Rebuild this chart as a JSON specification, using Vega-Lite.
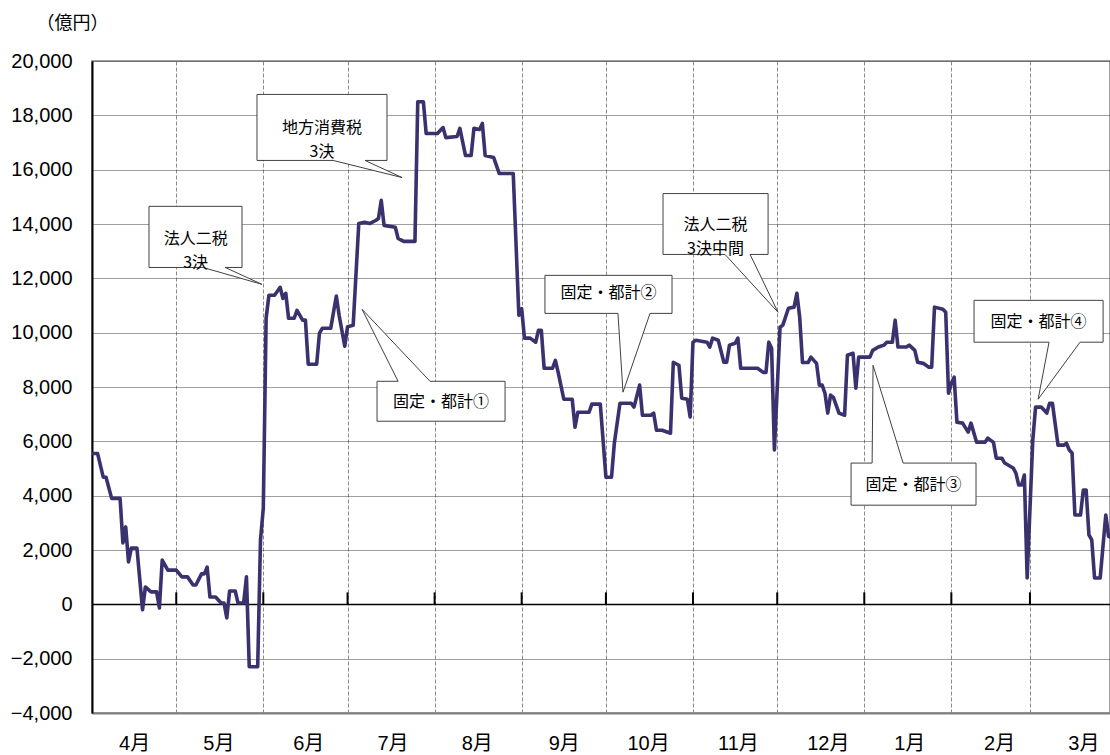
{
"$schema": "https://vega.github.io/schema/vega-lite/v6.json",
"width": 1018, "height": 652,
"autosize": {"type": "none"},
"padding": {"left": 92, "top": 61, "right": 0, "bottom": 42},
"background": "white",
"config": {"view": {"stroke": "#808080", "strokeWidth": 1.5}},
"datasets": {
"series": [
{"date":"2010-04-01","v":5550},{"date":"2010-04-03","v":5550},{"date":"2010-04-05","v":4680},{"date":"2010-04-06","v":4680},{"date":"2010-04-08","v":3900},{"date":"2010-04-11","v":3900},{"date":"2010-04-12","v":2260},{"date":"2010-04-13","v":2850},{"date":"2010-04-14","v":1560},{"date":"2010-04-15","v":2070},{"date":"2010-04-17","v":2070},{"date":"2010-04-19","v":-200},{"date":"2010-04-20","v":640},{"date":"2010-04-22","v":460},{"date":"2010-04-24","v":460},{"date":"2010-04-25","v":-130},{"date":"2010-04-26","v":1630},{"date":"2010-04-28","v":1260},
{"date":"2010-05-01","v":1260},{"date":"2010-05-03","v":1010},{"date":"2010-05-05","v":1010},{"date":"2010-05-07","v":710},{"date":"2010-05-08","v":710},{"date":"2010-05-10","v":1120},{"date":"2010-05-11","v":1120},{"date":"2010-05-12","v":1370},{"date":"2010-05-13","v":270},{"date":"2010-05-15","v":270},{"date":"2010-05-17","v":50},{"date":"2010-05-18","v":50},{"date":"2010-05-19","v":-500},{"date":"2010-05-20","v":490},{"date":"2010-05-22","v":490},{"date":"2010-05-23","v":50},{"date":"2010-05-25","v":50},{"date":"2010-05-26","v":1010},{"date":"2010-05-27","v":-2300},{"date":"2010-05-30","v":-2300},{"date":"2010-05-31","v":2370},
{"date":"2010-06-01","v":3540},{"date":"2010-06-02","v":10530},{"date":"2010-06-03","v":11380},{"date":"2010-06-05","v":11380},{"date":"2010-06-07","v":11670},{"date":"2010-06-08","v":11260},{"date":"2010-06-09","v":11450},{"date":"2010-06-10","v":10530},{"date":"2010-06-12","v":10530},{"date":"2010-06-13","v":10820},{"date":"2010-06-15","v":10460},{"date":"2010-06-16","v":10460},{"date":"2010-06-17","v":8840},{"date":"2010-06-20","v":8840},{"date":"2010-06-21","v":9980},{"date":"2010-06-22","v":10160},{"date":"2010-06-25","v":10160},{"date":"2010-06-27","v":11350},{"date":"2010-06-28","v":10640},{"date":"2010-06-30","v":9500},
{"date":"2010-07-01","v":10220},{"date":"2010-07-03","v":10270},{"date":"2010-07-05","v":14020},{"date":"2010-07-07","v":14060},{"date":"2010-07-09","v":14020},{"date":"2010-07-11","v":14130},{"date":"2010-07-12","v":14200},{"date":"2010-07-13","v":14870},{"date":"2010-07-14","v":13950},{"date":"2010-07-18","v":13880},{"date":"2010-07-19","v":13470},{"date":"2010-07-21","v":13360},{"date":"2010-07-25","v":13360},{"date":"2010-07-26","v":18500},{"date":"2010-07-28","v":18500},{"date":"2010-07-29","v":17330},
{"date":"2010-08-02","v":17330},{"date":"2010-08-04","v":17550},{"date":"2010-08-05","v":17180},{"date":"2010-08-09","v":17220},{"date":"2010-08-10","v":17520},{"date":"2010-08-12","v":16520},{"date":"2010-08-14","v":16520},{"date":"2010-08-15","v":17520},{"date":"2010-08-17","v":17480},{"date":"2010-08-18","v":17700},{"date":"2010-08-19","v":16520},{"date":"2010-08-22","v":16450},{"date":"2010-08-24","v":15860},{"date":"2010-08-29","v":15860},{"date":"2010-08-31","v":10640},
{"date":"2010-09-01","v":10880},{"date":"2010-09-02","v":9800},{"date":"2010-09-04","v":9800},{"date":"2010-09-06","v":9650},{"date":"2010-09-07","v":10090},{"date":"2010-09-08","v":10090},{"date":"2010-09-09","v":8690},{"date":"2010-09-12","v":8690},{"date":"2010-09-13","v":8980},{"date":"2010-09-14","v":8540},{"date":"2010-09-16","v":7550},{"date":"2010-09-19","v":7550},{"date":"2010-09-20","v":6520},{"date":"2010-09-21","v":7070},{"date":"2010-09-25","v":7070},{"date":"2010-09-26","v":7370},{"date":"2010-09-29","v":7370},
{"date":"2010-10-01","v":4680},{"date":"2010-10-03","v":4680},{"date":"2010-10-04","v":5930},{"date":"2010-10-06","v":7400},{"date":"2010-10-10","v":7400},{"date":"2010-10-11","v":7260},{"date":"2010-10-13","v":8070},{"date":"2010-10-14","v":6960},{"date":"2010-10-17","v":6960},{"date":"2010-10-18","v":7040},{"date":"2010-10-19","v":6410},{"date":"2010-10-21","v":6410},{"date":"2010-10-24","v":6300},{"date":"2010-10-25","v":8910},{"date":"2010-10-27","v":8800},{"date":"2010-10-28","v":7590},{"date":"2010-10-30","v":7550},{"date":"2010-10-31","v":6900},
{"date":"2010-11-01","v":9650},{"date":"2010-11-02","v":9720},{"date":"2010-11-06","v":9650},{"date":"2010-11-07","v":9470},{"date":"2010-11-08","v":9800},{"date":"2010-11-10","v":9720},{"date":"2010-11-12","v":8910},{"date":"2010-11-13","v":8910},{"date":"2010-11-14","v":9540},{"date":"2010-11-16","v":9610},{"date":"2010-11-17","v":9800},{"date":"2010-11-18","v":8690},{"date":"2010-11-24","v":8690},{"date":"2010-11-26","v":8540},{"date":"2010-11-27","v":8540},{"date":"2010-11-28","v":9650},{"date":"2010-11-29","v":9430},{"date":"2010-11-30","v":5680},
{"date":"2010-12-02","v":10200},{"date":"2010-12-03","v":10280},{"date":"2010-12-05","v":10900},{"date":"2010-12-07","v":10940},{"date":"2010-12-08","v":11450},{"date":"2010-12-09","v":10570},{"date":"2010-12-10","v":8900},{"date":"2010-12-12","v":8900},{"date":"2010-12-13","v":9100},{"date":"2010-12-15","v":8870},{"date":"2010-12-16","v":8070},{"date":"2010-12-17","v":8070},{"date":"2010-12-18","v":7770},{"date":"2010-12-19","v":7040},{"date":"2010-12-20","v":7700},{"date":"2010-12-21","v":7620},{"date":"2010-12-23","v":7040},{"date":"2010-12-25","v":6960},{"date":"2010-12-26","v":9170},{"date":"2010-12-28","v":9240},{"date":"2010-12-29","v":7960},{"date":"2010-12-30","v":9100},
{"date":"2011-01-03","v":9100},{"date":"2011-01-04","v":9350},{"date":"2011-01-06","v":9470},{"date":"2011-01-08","v":9540},{"date":"2011-01-09","v":9650},{"date":"2011-01-11","v":9650},{"date":"2011-01-12","v":10460},{"date":"2011-01-13","v":9470},{"date":"2011-01-16","v":9470},{"date":"2011-01-17","v":9540},{"date":"2011-01-19","v":9350},{"date":"2011-01-20","v":8910},{"date":"2011-01-22","v":8870},{"date":"2011-01-24","v":8730},{"date":"2011-01-25","v":8730},{"date":"2011-01-26","v":10940},{"date":"2011-01-29","v":10860},{"date":"2011-01-30","v":10750},{"date":"2011-01-31","v":7770},
{"date":"2011-02-01","v":8140},{"date":"2011-02-02","v":8360},{"date":"2011-02-03","v":6700},{"date":"2011-02-05","v":6670},{"date":"2011-02-07","v":6340},{"date":"2011-02-08","v":6670},{"date":"2011-02-10","v":5970},{"date":"2011-02-13","v":5970},{"date":"2011-02-14","v":6120},{"date":"2011-02-16","v":5960},{"date":"2011-02-17","v":5380},{"date":"2011-02-19","v":5380},{"date":"2011-02-20","v":5200},{"date":"2011-02-23","v":5020},{"date":"2011-02-24","v":4830},{"date":"2011-02-25","v":4390},{"date":"2011-02-26","v":4390},{"date":"2011-02-27","v":4760},{"date":"2011-02-28","v":970},
{"date":"2011-03-02","v":6040},{"date":"2011-03-03","v":7260},{"date":"2011-03-05","v":7260},{"date":"2011-03-07","v":7040},{"date":"2011-03-08","v":7400},{"date":"2011-03-09","v":7400},{"date":"2011-03-11","v":5860},{"date":"2011-03-13","v":5860},{"date":"2011-03-14","v":5930},{"date":"2011-03-15","v":5680},{"date":"2011-03-16","v":5570},{"date":"2011-03-17","v":3290},{"date":"2011-03-19","v":3290},{"date":"2011-03-20","v":4210},{"date":"2011-03-21","v":4210},{"date":"2011-03-22","v":2560},{"date":"2011-03-23","v":2370},{"date":"2011-03-24","v":970},{"date":"2011-03-26","v":970},{"date":"2011-03-28","v":3290},{"date":"2011-03-29","v":2500},{"date":"2011-03-30","v":2450}
],
"months": [
{"date":"2010-05-01"},{"date":"2010-06-01"},{"date":"2010-07-01"},{"date":"2010-08-01"},{"date":"2010-09-01"},{"date":"2010-10-01"},{"date":"2010-11-01"},{"date":"2010-12-01"},{"date":"2011-01-01"},{"date":"2011-02-01"},{"date":"2011-03-01"}
],
"callouts": [
{"id":"a","seq":1,"date":"2010-04-21T07:00Z","v":14650},{"id":"a","seq":2,"date":"2010-05-24T10:00Z","v":14650},{"id":"a","seq":3,"date":"2010-05-24T10:00Z","v":12400},{"id":"a","seq":4,"date":"2010-05-18T10:00Z","v":12400},{"id":"a","seq":5,"date":"2010-05-31T12:00Z","v":11780},{"id":"a","seq":6,"date":"2010-05-10T12:00Z","v":12400},{"id":"a","seq":7,"date":"2010-04-21T07:00Z","v":12400},{"id":"a","seq":8,"date":"2010-04-21T07:00Z","v":14650},
{"id":"b","seq":1,"date":"2010-05-29T18:00Z","v":18770},{"id":"b","seq":2,"date":"2010-07-15T01:00Z","v":18770},{"id":"b","seq":3,"date":"2010-07-15T01:00Z","v":16340},{"id":"b","seq":4,"date":"2010-07-07T05:00Z","v":16340},{"id":"b","seq":5,"date":"2010-07-20T10:00Z","v":15710},{"id":"b","seq":6,"date":"2010-06-25T20:00Z","v":16340},{"id":"b","seq":7,"date":"2010-05-29T18:00Z","v":16340},{"id":"b","seq":8,"date":"2010-05-29T18:00Z","v":18770},
{"id":"c","seq":1,"date":"2010-07-11T12:00Z","v":8210},{"id":"c","seq":2,"date":"2010-07-19T00:00Z","v":8210},{"id":"c","seq":3,"date":"2010-07-06T04:00Z","v":10860},{"id":"c","seq":4,"date":"2010-07-30T09:00Z","v":8210},{"id":"c","seq":5,"date":"2010-08-26T02:00Z","v":8210},{"id":"c","seq":6,"date":"2010-08-26T02:00Z","v":6740},{"id":"c","seq":7,"date":"2010-07-11T12:00Z","v":6740},{"id":"c","seq":8,"date":"2010-07-11T12:00Z","v":8210},
{"id":"d","seq":1,"date":"2010-09-09T07:00Z","v":12110},{"id":"d","seq":2,"date":"2010-10-24T13:00Z","v":12110},{"id":"d","seq":3,"date":"2010-10-24T13:00Z","v":10710},{"id":"d","seq":4,"date":"2010-10-16T17:00Z","v":10710},{"id":"d","seq":5,"date":"2010-10-07T02:00Z","v":7810},{"id":"d","seq":6,"date":"2010-10-05T07:00Z","v":10710},{"id":"d","seq":7,"date":"2010-09-09T07:00Z","v":10710},{"id":"d","seq":8,"date":"2010-09-09T07:00Z","v":12110},
{"id":"e","seq":1,"date":"2010-10-21T08:00Z","v":15120},{"id":"e","seq":2,"date":"2010-11-27T18:00Z","v":15120},{"id":"e","seq":3,"date":"2010-11-27T18:00Z","v":12880},{"id":"e","seq":4,"date":"2010-11-21T08:00Z","v":12880},{"id":"e","seq":5,"date":"2010-12-01T07:00Z","v":10750},{"id":"e","seq":6,"date":"2010-11-12T10:00Z","v":12880},{"id":"e","seq":7,"date":"2010-10-21T08:00Z","v":12880},{"id":"e","seq":8,"date":"2010-10-21T08:00Z","v":15120},
{"id":"f","seq":1,"date":"2010-12-27T07:00Z","v":5200},{"id":"f","seq":2,"date":"2011-01-03T19:00Z","v":5200},{"id":"f","seq":3,"date":"2011-01-04T03:00Z","v":8800},{"id":"f","seq":4,"date":"2011-01-14T20:00Z","v":5200},{"id":"f","seq":5,"date":"2011-02-09T19:00Z","v":5200},{"id":"f","seq":6,"date":"2011-02-09T19:00Z","v":3650},{"id":"f","seq":7,"date":"2010-12-27T07:00Z","v":3650},{"id":"f","seq":8,"date":"2010-12-27T07:00Z","v":5200},
{"id":"g","seq":1,"date":"2011-02-09T02:00Z","v":11190},{"id":"g","seq":2,"date":"2011-03-27T01:00Z","v":11190},{"id":"g","seq":3,"date":"2011-03-27T01:00Z","v":9650},{"id":"g","seq":4,"date":"2011-03-18T20:00Z","v":9650},{"id":"g","seq":5,"date":"2011-03-03T22:00Z","v":7550},{"id":"g","seq":6,"date":"2011-03-07T19:00Z","v":9650},{"id":"g","seq":7,"date":"2011-02-09T02:00Z","v":9650},{"id":"g","seq":8,"date":"2011-02-09T02:00Z","v":11190}
],
"notes": [
{"date":"2010-05-07T22:00Z","v":13450,"label":["法人二税","3決"]},
{"date":"2010-06-21T22:00Z","v":17530,"label":["地方消費税","3決"]},
{"date":"2010-08-03T07:00Z","v":7440,"label":["固定・都計①"]},
{"date":"2010-10-01T23:00Z","v":11450,"label":["固定・都計②"]},
{"date":"2010-11-09T00:00Z","v":13950,"label":["法人二税","3決中間"]},
{"date":"2011-01-18T13:00Z","v":4390,"label":["固定・都計③"]},
{"date":"2011-03-04T02:00Z","v":10380,"label":["固定・都計④"]}
]
},
"layer": [
{
"data": {"name": "series"},
"mark": {"type": "line", "color": "#3a326e", "strokeWidth": 3.6, "strokeJoin": "round", "clip": true},
"encoding": {
"x": {"field": "date", "type": "temporal",
"scale": {"type": "utc", "domain": [{"year": 2010, "month": 4, "date": 1, "utc": true}, {"year": 2011, "month": 3, "date": 29, "hours": 12, "utc": true}]},
"axis": {
"title": null,
"values": [
{"year":2010,"month":4,"date":1,"utc":true},{"year":2010,"month":5,"date":1,"utc":true},{"year":2010,"month":6,"date":1,"utc":true},{"year":2010,"month":7,"date":1,"utc":true},{"year":2010,"month":8,"date":1,"utc":true},{"year":2010,"month":9,"date":1,"utc":true},{"year":2010,"month":10,"date":1,"utc":true},{"year":2010,"month":11,"date":1,"utc":true},{"year":2010,"month":12,"date":1,"utc":true},{"year":2011,"month":1,"date":1,"utc":true},{"year":2011,"month":2,"date":1,"utc":true},{"year":2011,"month":3,"date":1,"utc":true},
{"year":2010,"month":4,"date":16,"utc":true},{"year":2010,"month":5,"date":16,"utc":true},{"year":2010,"month":6,"date":17,"utc":true},{"year":2010,"month":7,"date":17,"utc":true},{"year":2010,"month":8,"date":16,"utc":true},{"year":2010,"month":9,"date":16,"utc":true},{"year":2010,"month":10,"date":16,"utc":true},{"year":2010,"month":11,"date":17,"utc":true},{"year":2010,"month":12,"date":19,"utc":true},{"year":2011,"month":1,"date":17,"utc":true},{"year":2011,"month":2,"date":18,"utc":true},{"year":2011,"month":3,"date":20,"utc":true}
],
"labelExpr": "utcdate(datum.value) == 1 ? '' : (utcmonth(datum.value) + 1) + '月'",
"ticks": false, "tickSize": 0,
"labelPadding": 20, "labelFont": "Liberation Sans, Noto Sans CJK JP", "labelFontSize": 20, "labelColor": "black",
"labelOverlap": false, "labelFlush": false, "labelBound": false,
"grid": true, "gridColor": "#8a8a8a", "gridDash": [4, 2], "gridWidth": 1,
"gridOpacity": {"condition": {"test": "utcdate(datum.value) == 1", "value": 1}, "value": 0},
"domainColor": "#808080", "domainWidth": 2
}
},
"y": {"field": "v", "type": "quantitative",
"scale": {"domain": [-4000, 20000], "nice": false, "zero": false},
"axis": {
"title": "（億円）", "titleAngle": 0, "titleX": -20, "titleY": -38, "titleAlign": "center", "titleBaseline": "middle",
"titleFont": "Noto Sans CJK JP", "titleFontSize": 18, "titleFontWeight": "normal", "titleColor": "black",
"values": [-4000, -2000, 0, 2000, 4000, 6000, 8000, 10000, 12000, 14000, 16000, 18000, 20000],
"format": ",.0f",
"ticks": false, "tickSize": 0, "labelPadding": 20,
"labelFont": "Liberation Sans", "labelFontSize": 20, "labelColor": "black",
"grid": true,
"gridColor": {"condition": {"test": "datum.value == 0", "value": "black"}, "value": "#404040"},
"gridDash": {"condition": {"test": "datum.value == 0", "value": []}, "value": [1, 1]},
"gridWidth": {"condition": {"test": "datum.value == 0", "value": 1.5}, "value": 1},
"domainColor": "black", "domainWidth": 2
}
}
}
},
{
"data": {"name": "months"},
"mark": {"type": "rule", "color": "black", "strokeWidth": 2},
"encoding": {
"x": {"field": "date", "type": "temporal"},
"y": {"datum": 0},
"y2": {"datum": 440}
}
},
{
"data": {"name": "callouts"},
"mark": {"type": "line", "fill": "white", "stroke": "#404040", "strokeWidth": 1, "strokeJoin": "miter"},
"encoding": {
"x": {"field": "date", "type": "temporal"},
"y": {"field": "v", "type": "quantitative"},
"detail": {"field": "id"},
"order": {"field": "seq", "type": "quantitative"}
}
},
{
"data": {"name": "notes"},
"mark": {"type": "text", "font": "Noto Sans CJK JP", "fontSize": 16, "color": "black", "align": "center", "baseline": "middle", "lineHeight": 24},
"encoding": {
"x": {"field": "date", "type": "temporal"},
"y": {"field": "v", "type": "quantitative"},
"text": {"field": "label"}
}
}
]
}
